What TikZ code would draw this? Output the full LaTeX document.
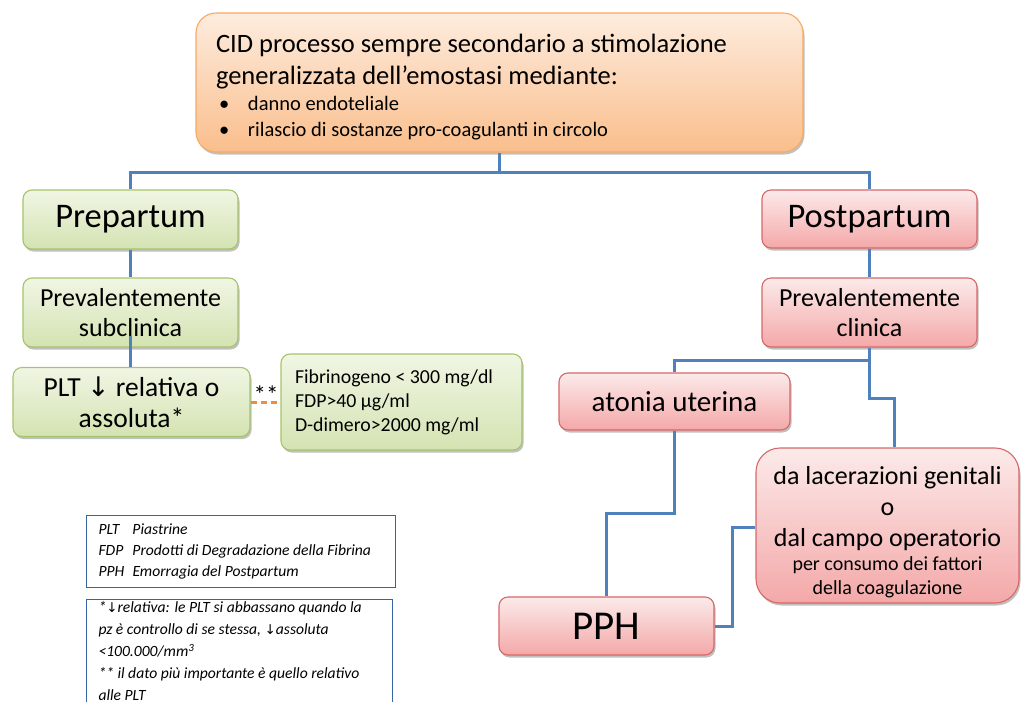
\documentclass[tikz,border=0pt]{standalone}
\usepackage{fontspec}
\setmainfont{Carlito}
\newfontfamily\symfont{DejaVu Sans}
\usetikzlibrary{shadows}
\definecolor{orT}{RGB}{253,236,222}
\definecolor{orB}{RGB}{250,190,140}
\definecolor{orD}{RGB}{248,170,100}
\definecolor{grT}{RGB}{240,246,228}
\definecolor{grB}{RGB}{212,227,178}
\definecolor{grD}{RGB}{166,196,106}
\definecolor{rdT}{RGB}{252,234,234}
\definecolor{rdB}{RGB}{244,168,168}
\definecolor{rdD}{RGB}{214,104,104}
\definecolor{lineblue}{RGB}{79,129,189}
\definecolor{dashor}{RGB}{240,140,60}
\definecolor{legblue}{RGB}{52,101,164}
\tikzset{
  basebox/.style={rounded corners=9pt, line width=1.1pt, inner sep=0pt, align=center,
    drop shadow={shadow xshift=1.5pt, shadow yshift=-2.5pt, opacity=.35, fill=black!70}},
  obox/.style={basebox, rounded corners=20pt, draw=orD, top color=orT, bottom color=orB},
  gbox/.style={basebox, draw=grD, top color=grT, bottom color=grB},
  rbox/.style={basebox, draw=rdD, top color=rdT, bottom color=rdB},
  legbox/.style={draw=legblue, line width=1pt, fill=white, inner xsep=12pt, inner ysep=3pt,
    align=flush left, font=\itshape\fontsize{15.6}{21}\selectfont},
  conn/.style={draw=lineblue, line width=3pt},
  dconn/.style={draw=dashor, line width=3pt, dash pattern=on 6pt off 4pt},
  f26/.style={font=\fontsize{26}{30.5}\selectfont},
  f34/.style={font=\fontsize{34.5}{40}\selectfont}
}
\newcommand{\darr}[1]{{\symfont\upshape\fontsize{#1}{#1}\selectfont ↓}}
\begin{document}
\begin{tikzpicture}[x=1pt,y=-1pt]
\fill[white] (0,0) rectangle (1021,702);
\useasboundingbox (0,0) rectangle (1021,702);

% top box
\node[obox, minimum width=607pt, minimum height=139pt] (top) at (499.5,82.5)
 {\parbox{567pt}{\raggedright\vspace*{9pt}\fontsize{26.5}{32}\selectfont
  CID processo sempre secondario a stimolazione\\
  generalizzata dell’emostasi mediante:\par
  \fontsize{20.5}{26}\selectfont
  \makebox[32pt][l]{\hspace{3pt}•}danno endoteliale\\
  \makebox[32pt][l]{\hspace{3pt}•}rilascio di sostanze pro-coagulanti in circolo}};

% left branch
\node[gbox, f34, minimum width=215pt, minimum height=59pt] (pre) at (130.5,219.5) {Prepartum};
\node[gbox, f26, minimum width=215pt, minimum height=69pt] (subc) at (130.5,312.5) {Prevalentemente\\subclinica};
\node[gbox, font=\fontsize{27.5}{31}\selectfont, minimum width=237pt, minimum height=69pt] (plt) at (131.5,402)
 {PLT \darr{27} relativa o\\assoluta*};
\node[gbox, minimum width=241pt, minimum height=96pt, text width=213pt, align=flush left,
  font=\fontsize{19.8}{24}\selectfont] (fib) at (401.5,402)
 {Fibrinogeno < 300 mg/dl\\FDP>40 µg/ml\\D-dimero>2000 mg/ml};

% right branch
\node[rbox, f34, minimum width=215pt, minimum height=58pt] (post) at (869.5,219) {Postpartum};
\node[rbox, f26, minimum width=215pt, minimum height=69pt] (clin) at (869.5,312.5) {Prevalentemente\\clinica};
\node[rbox, font=\fontsize{29}{34}\selectfont, minimum width=231pt, minimum height=57pt] (aton) at (674.5,401.5) {atonia uterina};
\node[rbox, rounded corners=24pt, minimum width=263pt, minimum height=155pt] (lac) at (887.5,525.5)
 {\parbox{250pt}{\centering\vspace*{14pt}\fontsize{26}{31}\selectfont
  da lacerazioni genitali\\o\\dal campo operatorio\par
  \fontsize{20}{24}\selectfont per consumo dei fattori\\della coagulazione}};
\node[rbox, font=\fontsize{41}{46}\selectfont, minimum width=215pt, minimum height=58pt] (pph) at (606.5,626) {PPH};

% legends
\node[legbox, anchor=north west, text width=285pt, minimum height=72pt] (leg1) at (86,515)
 {\makebox[34pt][l]{PLT}Piastrine\\
  \makebox[34pt][l]{FDP}Prodotti di Degradazione della Fibrina\\
  \makebox[34pt][l]{PPH}Emorragia del Postpartum};
\node[legbox, anchor=north west, text width=282pt, inner ysep=2pt, font=\itshape\fontsize{15.6}{22.1}\selectfont] (leg2) at (86,599)
 {*\darr{13.5}relativa: le PLT si abbassano quando la\\
  pz è controllo di se stessa, \darr{13.5}assoluta\\
  <100.000/mm\textsuperscript{3}\\{}
  ** il dato più importante è quello relativo\\
  alle PLT\\ \mbox{}};

% connectors
\coordinate (hub) at (499.5,172);
\draw[conn] (top.south) -- (hub);
\draw[conn] (pre.north) |- (hub) -| (post.north);
\draw[conn] (pre.south) -- (subc.north);
\draw[conn] ([yshift=12pt]subc.south) -- (subc.south |- plt.north);
\draw[dconn] (plt.east) -- (fib.west);
\node[font=\fontsize{25}{26}\selectfont, inner sep=0pt] (ast) at (266,395) {**};

\draw[conn] (post.south) -- (clin.north);
\coordinate (c1) at (869.5,360);
\coordinate (lb) at (894,398);
\draw[conn] (clin.south) -- (c1) -| (aton.north);
\draw[conn] (c1) |- (lb) -- (lb |- lac.north);
\coordinate (ab) at (674.5,513);
\draw[conn] (aton.south) -- (ab) -| (pph.north);
\coordinate (pt) at (732,527);
\draw[conn] (pph.east) -| (pt) -- (pt -| lac.west);
\end{tikzpicture}
\end{document}
